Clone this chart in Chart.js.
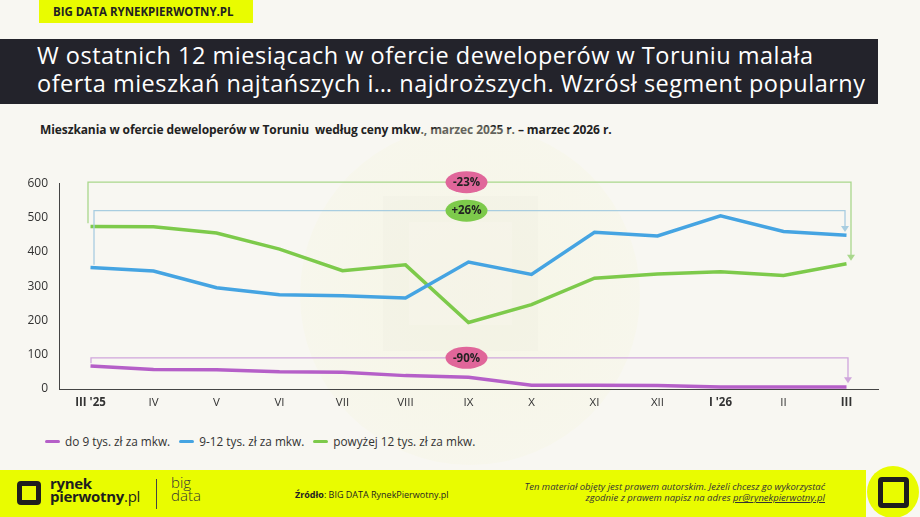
<!DOCTYPE html>
<html lang="pl">
<head>
<meta charset="utf-8">
<script src="https://cdn.jsdelivr.net/npm/chart.js@4"></script>
<style>
  html, body { margin: 0; padding: 0; }
  body { width: 920px; height: 517px; position: relative; overflow: hidden; background: #f8f7f2; font-family: "Open Sans", "Noto Sans", sans-serif; }
  .tag { position: absolute; left: 39px; top: 0; width: 214px; height: 23px; background: #e9fc00; font: 700 11.5px "Open Sans", sans-serif; color: #222; line-height: 23px; padding-left: 14px; box-sizing: border-box; }
  .banner { position: absolute; left: 0; top: 39px; width: 878px; height: 65px; background: #23232b; color: #fff; font: 400 23.5px/28px "Open Sans", sans-serif; padding: 2px 0 0 37px; box-sizing: border-box; letter-spacing: 0.5px; white-space: nowrap; }
  .subtitle { position: absolute; left: 40px; top: 121px; font: 700 12px "Open Sans", sans-serif; color: #222; letter-spacing: -0.1px; }
  .glow { position: absolute; left: 300px; top: 125px; width: 340px; height: 340px; border-radius: 50%; background: radial-gradient(circle, rgba(245,245,222,0.6) 0%, rgba(245,245,222,0.3) 70%, rgba(248,247,242,0) 100%); }
  .mark { position: absolute; left: 383px; top: 196px; width: 155px; height: 155px; background: rgba(225,225,210,0.12); }
  .mark2 { position: absolute; left: 409px; top: 222px; width: 103px; height: 103px; background: #f8f7ee; opacity: 0.35; }
  #wrap { position: absolute; left: 0; top: 170px; width: 890px; height: 250px; }
  .legend { position: absolute; left: 45px; top: 433px; font: 400 11.8px "Open Sans", sans-serif; color: #333; display: flex; gap: 9px; }
  .legend span.item { display: flex; align-items: center; }
  .legend i { display: inline-block; width: 15px; height: 3px; border-radius: 2px; margin-right: 5px; }
  .footer { position: absolute; left: 0; top: 470px; width: 866px; height: 47px; background: #e9fc00; }
  .badge { position: absolute; left: 867px; top: 466px; width: 52px; height: 52px; border-radius: 50%; background: #e9fc00; }
  .badge div { position: absolute; left: 11px; top: 11px; width: 21px; height: 21px; border: 5px solid #1e1e1e; border-radius: 4px; }
  .logo { position: absolute; left: 17px; top: 481px; width: 14px; height: 14px; border: 5px solid #1e1e1e; border-radius: 4px; }
  .brand { position: absolute; left: 50px; top: 477px; font: 700 15px/13px "Open Sans", sans-serif; color: #1e1e1e; letter-spacing: -0.3px; }
  .brand span { font-weight: 400; }
  .sep { position: absolute; left: 156px; top: 479px; width: 1px; height: 30px; background: #444; }
  .bd { position: absolute; left: 171px; top: 476px; font: 300 15px/13px "Open Sans", sans-serif; color: #333; }
  .src { position: absolute; left: 295px; top: 488px; font: 400 9px "Open Sans", sans-serif; color: #222; }
  .src b { font-weight: 700; }
  .copy { position: absolute; right: 95px; top: 481px; font: italic 400 9.5px/11px "Open Sans", sans-serif; color: #333; text-align: right; }
  .copy u { color: #333; }
</style>
</head>
<body>
<div class="tag">BIG DATA RYNEKPIERWOTNY.PL</div>
<div class="banner">W ostatnich 12 miesiącach w ofercie deweloperów w Toruniu malała<br>oferta mieszkań najtańszych i… najdroższych. Wzrósł segment popularny</div>
<div class="subtitle">Mieszkania w ofercie deweloperów w Toruniu&nbsp; według ceny mkw., marzec 2025 r. – marzec 2026 r.</div>
<div class="glow"></div>
<div class="mark"></div>
<div class="mark2"></div>
<div id="wrap"><canvas id="chart"></canvas></div>
<div class="legend" id="legend"></div>
<div class="footer"></div>
<div class="badge"><div></div></div>
<div class="logo"></div>
<div class="brand">rynek<br>pierwotny<span>.pl</span></div>
<div class="sep"></div>
<div class="bd">big<br>data</div>
<div class="src"><b>Źródło</b>: BIG DATA RynekPierwotny.pl</div>
<div class="copy">Ten materiał objęty jest prawem autorskim. Jeżeli chcesz go wykorzystać<br>zgodnie z prawem napisz na adres <u>pr@rynekpierwotny.pl</u></div>

<script>
const months = ["III '25", 'IV', 'V', 'VI', 'VII', 'VIII', 'IX', 'X', 'XI', 'XII', "I '26", 'II', 'III'];
const boldIdx = [0, 10, 12];
const seriesNames = ['do 9 tys. zł za mkw.', '9-12 tys. zł za mkw.', 'powyżej 12 tys. zł za mkw.'];
const cheap = [67, 57, 56, 50, 49, 39, 34, 11, 11, 10, 6, 6, 6];
const mid = [354, 344, 295, 275, 272, 265, 370, 334, 457, 446, 505, 459, 448];
const premium = [474, 473, 455, 408, 345, 362, 194, 246, 323, 335, 342, 331, 365];
const colors = ['#b55fc8', '#45a4e2', '#7dca4b'];
const yTicks = [0, 100, 200, 300, 400, 500, 600];

// change brackets: start value, top value, arrow end value
const brackets = [
  { label: '-23%', start: 483, top: 603, end: 374, line: '#a9d88c', fill: '#e0669a', dl: -2.5, dr: 4.5 },
  { label: '+26%', start: 362, top: 520, end: 458, line: '#a8cde0', fill: '#7dca4b', dl: 3.5, dr: -1.5 },
  { label: '-90%', start: 75, top: 91, end: 17, line: '#cfa6dc', fill: '#e0669a', dl: 0.5, dr: 1.5 }
];

const bracketPlugin = {
  id: 'brackets',
  afterDatasetsDraw(chart) {
    const { ctx, scales: { x, y } } = chart;
    const x0 = x.getPixelForValue(0);
    const x1 = x.getPixelForValue(months.length - 1);
    const mx = x.getPixelForValue(6) - 2;
    brackets.forEach(b => {
      const lx = x0 + b.dl;
      const rx = x1 + b.dr;
      const ty = y.getPixelForValue(b.top);
      const ey = y.getPixelForValue(b.end);
      ctx.save();
      ctx.strokeStyle = b.line;
      ctx.lineWidth = 1.3;
      ctx.beginPath();
      ctx.moveTo(lx, y.getPixelForValue(b.start));
      ctx.lineTo(lx, ty);
      ctx.lineTo(rx, ty);
      ctx.lineTo(rx, ey - 5);
      ctx.stroke();
      ctx.fillStyle = b.line;
      ctx.beginPath();
      ctx.moveTo(rx - 4, ey - 6);
      ctx.lineTo(rx + 4, ey - 6);
      ctx.lineTo(rx, ey);
      ctx.closePath();
      ctx.fill();
      ctx.fillStyle = b.fill;
      ctx.beginPath();
      ctx.ellipse(mx, ty, 21, 11, 0, 0, Math.PI * 2);
      ctx.fill();
      ctx.fillStyle = '#222';
      ctx.font = '700 11.5px "Open Sans", sans-serif';
      ctx.textAlign = 'center';
      ctx.textBaseline = 'middle';
      ctx.fillText(b.label, mx, ty + 0.5);
      ctx.restore();
    });
  }
};

const datasets = [cheap, mid, premium].map((d, i) => ({
  label: seriesNames[i],
  data: d,
  borderColor: colors[i],
  backgroundColor: colors[i],
  borderWidth: 3.5,
  pointRadius: 0,
  tension: 0,
  fill: false
}));

new Chart(document.getElementById('chart'), {
  type: 'line',
  data: { labels: months, datasets },
  options: {
    responsive: true,
    maintainAspectRatio: false,
    animation: false,
    layout: { padding: { top: 12, right: 12, left: 0, bottom: 0 } },
    plugins: { legend: { display: false }, tooltip: { enabled: false } },
    scales: {
      x: {
        offset: true,
        grid: { display: false, drawTicks: false },
        border: { color: '#444', width: 1 },
        afterFit(s) { s.height = 31; },
        ticks: {
          padding: 7,
          color: '#333',
          font: ctx => ({ family: 'Open Sans', size: 11.5, weight: boldIdx.includes(ctx.index) ? '700' : '400' })
        }
      },
      y: {
        min: 0,
        max: 600,
        afterBuildTicks(s) { s.ticks = yTicks.map(v => ({ value: v })); },
        afterFit(s) { s.width = 59; },
        grid: { display: false, drawTicks: true, tickLength: 5, color: '#444' },
        border: { color: '#444', width: 1 },
        ticks: { padding: 6, color: '#333', font: { family: 'Open Sans', size: 12 } }
      }
    }
  },
  plugins: [bracketPlugin]
});

document.getElementById('legend').innerHTML = seriesNames.map((n, i) =>
  '<span class="item"><i style="background:' + colors[i] + '"></i>' + n + '</span>').join('');
</script>
</body>
</html>
